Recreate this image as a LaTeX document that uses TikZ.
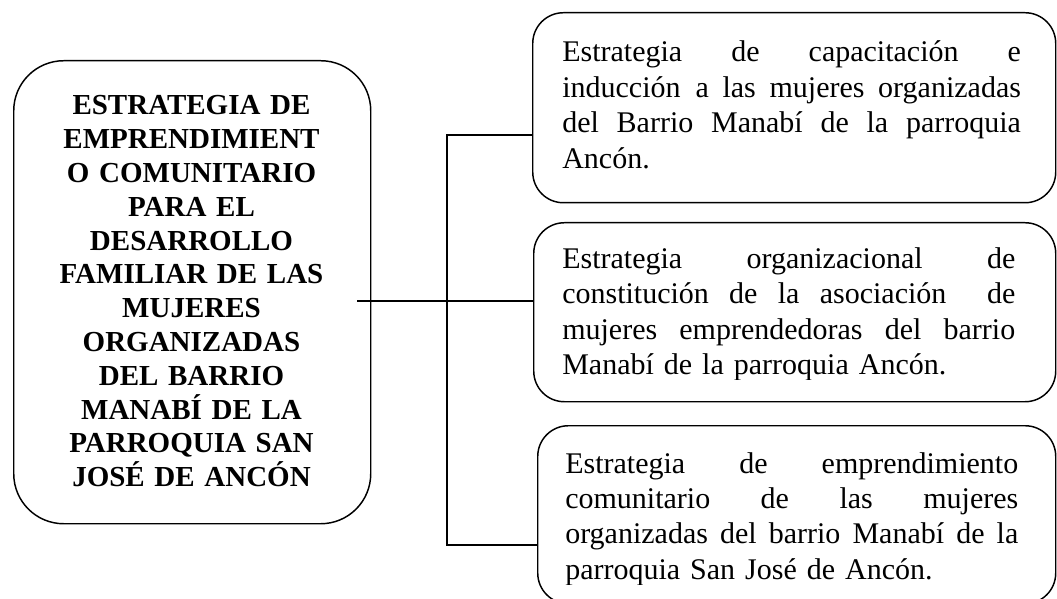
\documentclass[tikz,border=0pt]{standalone}
\usepackage{fontspec}
\setmainfont{Liberation Serif}
\newcommand\jline[2]{\leavevmode\hbox to #1{#2}}
\tikzset{
  bigbox/.style={draw, line width=1.1pt, rounded corners=37.5pt, inner sep=0pt, anchor=north west},
  smallbox/.style={draw, line width=1.1pt, rounded corners=23pt, inner sep=0pt, anchor=north west},
  titletxt/.style={inner sep=0pt, text width=300pt, align=center, anchor=base,
    font=\fontsize{21.75pt}{25.35pt}\selectfont\bfseries},
  bodytxt/.style={inner sep=0pt, align=left, anchor=base west,
    font=\fontsize{22.5pt}{26.6pt}\selectfont},
  conn/.style={line width=1.1pt}
}
\begin{document}
\begin{tikzpicture}[x=0.75pt, y=-0.75pt]
\useasboundingbox (0,0) rectangle (1057,599);
% boxes
\node[bigbox, minimum width=267.75pt, minimum height=347.25pt] (L) at (13,60) {};
\node[smallbox, minimum width=392.25pt, minimum height=142.5pt] (R1) at (532,12) {};
\node[smallbox, minimum width=391.5pt, minimum height=134.25pt] (R2) at (533,222) {};
\node[smallbox, minimum width=388.5pt, minimum height=133.5pt] (R3) at (537,425) {};
% texts
\node[titletxt] (Lt) at (191.5,115) {ESTRATEGIA DE\\ EMPRENDIMIENT\\ O COMUNITARIO\\ PARA EL\\ DESARROLLO\\ FAMILIAR DE LAS\\ MUJERES\\ ORGANIZADAS\\ DEL BARRIO\\ MANABÍ DE LA\\ PARROQUIA SAN\\ JOSÉ DE ANCÓN};
\node[bodytxt, text width=344pt] (R1t) at (562,62) {\jline{344pt}{Estrategia\hfill de\hfill capacitación\hfill e}\\ \jline{344pt}{inducción\hspace{0.5em}a\hfill las\hfill mujeres\hfill organizadas}\\ \jline{344pt}{del\hfill Barrio\hfill Manabí\hfill de\hfill la\hfill parroquia}\\ Ancón.};
\begin{scope}
\clip (533,222) rectangle (1056,379.5);
\node[bodytxt, text width=339.75pt] (R2t) at (562,268.5) {\jline{339.75pt}{Estrategia\hfill organizacional\hfill de}\\ \jline{339.75pt}{constitución\hfill de\hfill la\hfill asociación\hfill\hfill de}\\ \jline{339.75pt}{mujeres\hfill emprendedoras\hfill del\hfill barrio}\\ Manabí de la parroquia Ancón.};
\end{scope}
\begin{scope}
\clip (537,425) rectangle (1056,584);
\node[bodytxt, text width=339.75pt] (R3t) at (565,473) {\jline{339.75pt}{Estrategia\hfill de\hfill emprendimiento}\\ \jline{339.75pt}{comunitario\hfill de\hfill las\hfill mujeres}\\ \jline{339.75pt}{organizadas\hfill del\hfill barrio\hfill Manabí\hfill de\hfill la}\\ parroquia San José de Ancón.};
\end{scope}
% connectors
\coordinate (start) at (357,301);
\coordinate (jn) at (447,301);
\coordinate (ya) at (0,135);
\coordinate (yc) at (0,545);
\draw[conn] (start) -- (start -| R2.west);
\draw[conn] (R1.west |- ya) -| (jn |- yc) -- (R3.west |- yc);
\end{tikzpicture}
\end{document}
